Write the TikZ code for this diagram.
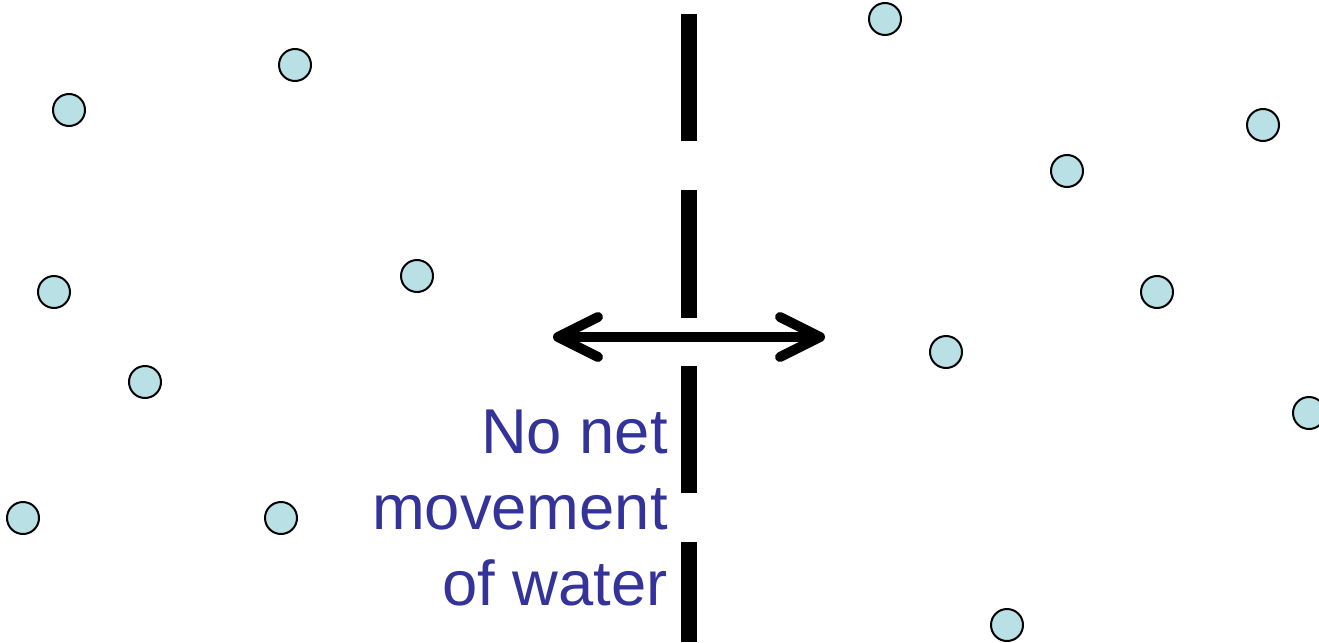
\documentclass[tikz,border=0pt]{standalone}
\usepackage{fontspec}
\setmainfont{Liberation Sans}
\usetikzlibrary{arrows.meta}
\definecolor{waterblue}{RGB}{185,224,228}
\definecolor{labelblue}{RGB}{51,51,153}
\tikzset{
  molecule/.style={circle, draw=black, line width=1.5pt, fill=waterblue,
    minimum size=24pt, inner sep=0pt},
  membrane/.style={line width=11.5pt},
  flow/.style={line width=7.5pt,
    {Straight Barb[length=30pt, width=30pt, round]}-{Straight Barb[length=30pt, width=30pt, round]}},
  caption/.style={text=labelblue, align=right, inner sep=0pt,
    font=\fontsize{47.5}{57}\selectfont}
}
\begin{document}
\begin{tikzpicture}[x=0.75pt, y=-0.75pt]
    \clip (0,0) rectangle (1319,642);

    % Membrane segments
    \foreach \top/\bot in {14/141, 190/318, 366/493, 542/642}
        \draw[membrane] (689,\top) -- (689,\bot);

    % Water molecules, left side
    \node[molecule] (m1) at (69,110) {};
    \node[molecule] (m2) at (295,65) {};
    \node[molecule] (m3) at (54,292) {};
    \node[molecule] (m4) at (417,276) {};
    \node[molecule] (m5) at (145,382) {};
    \node[molecule] (m6) at (23,518) {};
    \node[molecule] (m7) at (281,518) {};

    % Water molecules, right side
    \node[molecule] (m8) at (885,19) {};
    \node[molecule] (m9) at (1263,125) {};
    \node[molecule] (m10) at (1067,171) {};
    \node[molecule] (m11) at (1157,292) {};
    \node[molecule] (m12) at (946,352) {};
    \node[molecule] (m13) at (1309,413) {};
    \node[molecule] (m14) at (1007,625) {};

    % Two-way arrow
    \coordinate (westend) at (553,337);
    \coordinate (eastend) at (825,337);
    \draw[flow] (westend) -- (eastend);

    % Label
    \node[caption, anchor=north east] (netlabel) at (668,410) {No net\\movement\\of water};
\end{tikzpicture}
\end{document}
